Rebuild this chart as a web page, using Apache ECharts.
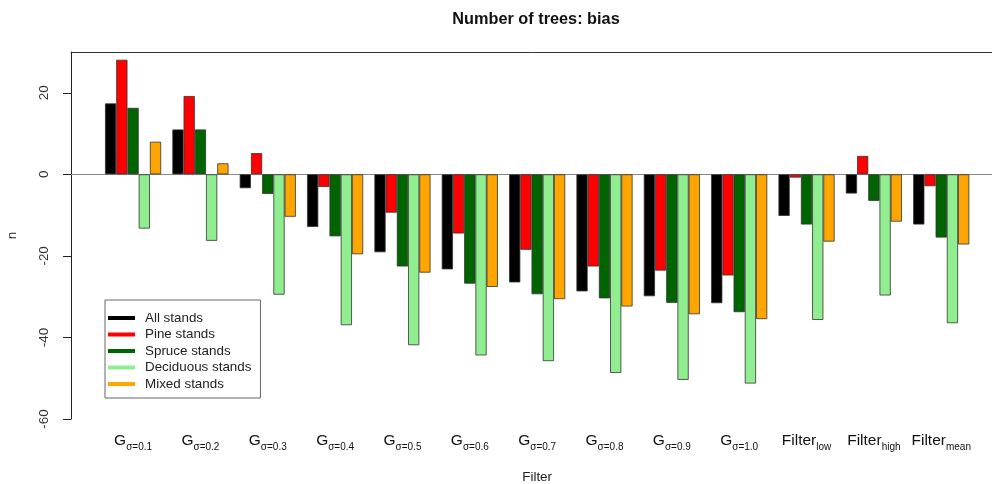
<!DOCTYPE html>
<html>
<head>
<meta charset="utf-8">
<script src="https://cdn.jsdelivr.net/npm/echarts@6/dist/echarts.min.js"></script>
<style>
  html, body { margin: 0; padding: 0; background: #fff; }
  #chart { width: 992px; height: 484px; }
</style>
</head>
<body>
<div id="chart"></div>
<script>
// Filter categories: main symbol and subscript
const labelMain = ['G', 'G', 'G', 'G', 'G', 'G', 'G', 'G', 'G', 'G', 'Filter', 'Filter', 'Filter'];
const labelSub = ['σ=0.1', 'σ=0.2', 'σ=0.3', 'σ=0.4', 'σ=0.5', 'σ=0.6', 'σ=0.7', 'σ=0.8', 'σ=0.9', 'σ=1.0', 'low', 'high', 'mean'];

// Bias in number of trees per stand type
const allStands       = [17.4, 11.0, -3.4, -12.9, -19.1, -23.3, -26.5, -28.7, -29.9, -31.6, -10.2, -4.7, -12.3];
const pineStands      = [28.1, 19.2,  5.2,  -3.1,  -9.4, -14.5, -18.5, -22.6, -23.6, -24.8,  -0.8,  4.5,  -2.9];
const spruceStands    = [16.3, 11.0, -4.8, -15.2, -22.6, -26.8, -29.4, -30.4, -31.5, -33.8, -12.3, -6.5, -15.5];
const deciduousStands = [-13.3, -16.3, -29.5, -37.0, -41.9, -44.4, -45.8, -48.7, -50.4, -51.3, -35.7, -29.7, -36.5];
const mixedStands     = [8.0, 2.7, -10.4, -19.6, -24.1, -27.6, -30.6, -32.4, -34.3, -35.5, -16.5, -11.6, -17.2];

const seriesNames = ['All stands', 'Pine stands', 'Spruce stands', 'Deciduous stands', 'Mixed stands'];
const seriesData = [allStands, pineStands, spruceStands, deciduousStands, mixedStands];
const seriesColors = ['#000000', '#ff0000', '#006400', '#90ee90', '#ffa500'];

// Y axis range and tick step
const yMin = -60, yMax = 30, yStep = 20;

const FONT = '"Liberation Sans", Arial, sans-serif';
const categories = labelMain.map((m, i) => m + '|' + labelSub[i]);

const chart = echarts.init(document.getElementById('chart'), null, { renderer: 'canvas' });

chart.setOption({
  backgroundColor: '#ffffff',
  animation: false,
  textStyle: { fontFamily: FONT },
  title: {
    text: 'Number of trees: bias',
    left: 536,
    textAlign: 'center',
    top: 12,
    padding: 0,
    textStyle: { fontSize: 16.3, fontWeight: 'bold', color: '#111', fontFamily: FONT }
  },
  legend: {
    orient: 'vertical',
    left: 105,
    top: 300,
    padding: [11, 9, 7, 3],
    itemGap: 2.5,
    itemWidth: 27,
    itemHeight: 4,
    icon: 'rect',
    itemStyle: { borderWidth: 0 },
    borderColor: '#666',
    borderWidth: 1,
    backgroundColor: '#fff',
    data: seriesNames,
    textStyle: { fontSize: 13.4, color: '#222', lineHeight: 14, padding: [0, 0, 0, 5], fontFamily: FONT }
  },
  grid: [
    // plot frame with y axis
    { left: 71, right: -20, top: 52, bottom: 65, containLabel: false, outerBoundsMode: 'none' },
    // bar layout region
    { left: 99.4, right: 17.1, top: 52, bottom: 65, containLabel: false, outerBoundsMode: 'none' }
  ],
  xAxis: [
    {
      gridIndex: 0, type: 'value', min: 0, max: 1, position: 'bottom',
      axisLine: { show: true, lineStyle: { color: '#8a8a8a', width: 1 } },
      axisTick: { show: false }, axisLabel: { show: false }, splitLine: { show: false }
    },
    {
      gridIndex: 0, type: 'value', min: 0, max: 1, position: 'top',
      axisLine: { show: true, lineStyle: { color: '#333', width: 1 } },
      axisTick: { show: false }, axisLabel: { show: false }, splitLine: { show: false }
    },
    {
      gridIndex: 1, type: 'category', data: categories, position: 'bottom',
      axisLine: { show: false }, axisTick: { show: false },
      name: 'Filter', nameLocation: 'middle', nameGap: 52,
      nameTextStyle: { fontSize: 13.4, color: '#222', fontFamily: FONT },
      axisLabel: {
        interval: 0,
        margin: 14,
        formatter: (v) => {
          const p = v.split('|');
          return '{a|' + p[0] + '}{b|' + p[1] + '}';
        },
        rich: {
          a: { fontSize: 15.5, color: '#111', fontFamily: FONT, lineHeight: 18, verticalAlign: 'top' },
          b: { fontSize: 10, color: '#111', fontFamily: FONT, lineHeight: 12, verticalAlign: 'top', padding: [9, 0, 0, 0] }
        }
      }
    }
  ],
  yAxis: [
    {
      gridIndex: 0, type: 'value', min: yMin, max: yMax, interval: yStep,
      axisLine: { show: true, lineStyle: { color: '#222', width: 1 } },
      axisTick: { show: true, length: 8, lineStyle: { color: '#222' } },
      axisLabel: { rotate: 90, margin: 20, fontSize: 13.4, color: '#333', fontFamily: FONT,
        showMaxLabel: false },
      splitLine: { show: true, lineStyle: { color: ['transparent', 'transparent', 'transparent', '#8a8a8a', 'transparent'], width: 1 } },
      name: 'n', nameLocation: 'middle', nameGap: 52, nameRotate: 90,
      nameTextStyle: { fontSize: 13.4, color: '#222', fontFamily: FONT }
    },
    {
      gridIndex: 1, type: 'value', min: yMin, max: yMax, interval: yStep,
      show: false, splitLine: { show: false }
    }
  ],
  series: seriesNames.map((name, i) => ({
    name: name,
    type: 'bar',
    xAxisIndex: 2,
    yAxisIndex: 1,
    data: seriesData[i],
    barGap: '0%',
    barCategoryGap: '16.667%',
    itemStyle: { color: seriesColors[i], borderColor: '#333', borderWidth: 0.8 }
  }))
});
</script>
</body>
</html>
